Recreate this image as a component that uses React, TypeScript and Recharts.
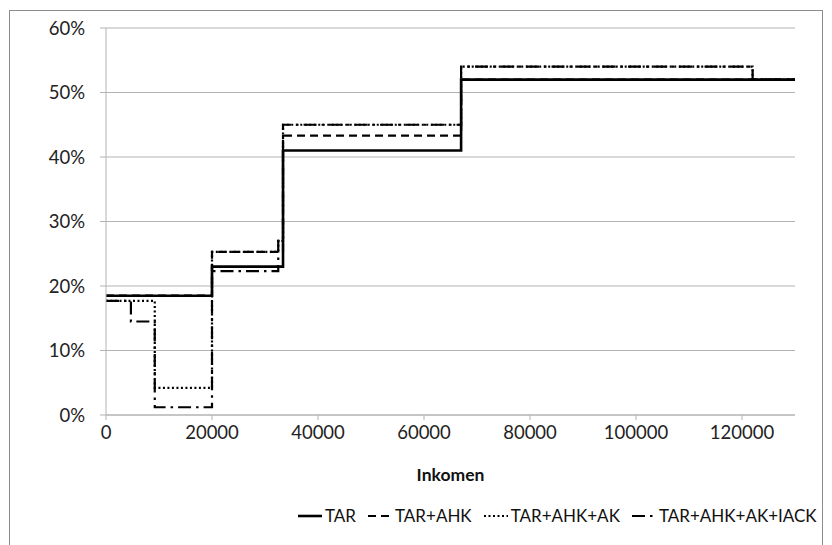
import { LineChart, Line, XAxis, YAxis, CartesianGrid } from 'recharts'

// step breakpoints (income) and marginal rates (%)
const xTicks = [0, 20000, 40000, 60000, 80000, 100000, 120000]
const yTicks = [0, 10, 20, 30, 40, 50, 60]

const tarIncome = [0, 20000, 33400, 67000, 130000]
const tarRate = [18.5, 23, 41, 52, 52]

const ahkIncome = [0, 20000, 33400, 67000, 130000]
const ahkRate = [18.5, 25.3, 43.3, 52, 52]

const akIncome = [0, 9200, 20000, 32500, 33400, 67000, 122000, 130000]
const akRate = [17.7, 4.2, 25.3, 27, 45, 54, 52, 52]

const iackIncome = [0, 4700, 9200, 20000, 32500, 33400, 67000, 122000, 130000]
const iackRate = [17.7, 14.5, 1.2, 22.3, 27, 45, 54, 52, 52]

const toPoints = (xs, ys) => xs.map((x, i) => ({ x, y: ys[i] }))

const series = [
  { name: 'TAR', data: toPoints(tarIncome, tarRate), dash: undefined, width: 2.6 },
  { name: 'TAR+AHK', data: toPoints(ahkIncome, ahkRate), dash: '8 5', width: 2.2 },
  { name: 'TAR+AHK+AK', data: toPoints(akIncome, akRate), dash: '2 2.5', width: 2.2 },
  { name: 'TAR+AHK+AK+IACK', data: toPoints(iackIncome, iackRate), dash: '13 5 2.5 5', width: 2.2 }
]

const font = 'Lato, "Open Sans", sans-serif'
const gray = '#b3b3b3'

const LegendItem = ({ label, dash, width }) => (
  <div style={{ display: 'flex', alignItems: 'center', marginRight: 11 }}>
    <svg width={26} height={10}>
      <line x1={1} y1={5} x2={25} y2={5} stroke="#000" strokeWidth={width} strokeDasharray={dash} />
    </svg>
    <span style={{ marginLeft: 2 }}>{label}</span>
  </div>
)

export default function App() {
  return (
    <div style={{ position: 'absolute', left: 0, top: 0, width: 832, height: 545, background: '#fff', fontFamily: font }}>
      <div style={{ position: 'absolute', left: 9, top: 10, width: 812, height: 540, border: '1px solid #8c8c8c' }} />
      <div style={{ position: 'absolute', left: 0, top: 0 }}>
        <LineChart width={832} height={545} margin={{ top: 28, right: 37, bottom: 60, left: 46 }}>
          <CartesianGrid vertical={false} stroke={gray} strokeWidth={1.2} />
          <XAxis
            type="number"
            dataKey="x"
            domain={[0, 130000]}
            ticks={xTicks}
            allowDuplicatedCategory={false}
            stroke={gray}
            tickSize={5}
            tickMargin={6}
            height={70}
            tick={{ fill: '#222', fontSize: 18.5, fontFamily: font }}
            label={{ value: 'Inkomen', position: 'insideBottom', offset: 4, fill: '#111', fontSize: 17.5, fontWeight: 700, fontFamily: font }}
          />
          <YAxis
            type="number"
            domain={[0, 60]}
            ticks={yTicks}
            width={60}
            stroke={gray}
            tickSize={6}
            tickMargin={15}
            tickFormatter={(v) => `${v}%`}
            tick={{ fill: '#222', fontSize: 18.5, fontFamily: font }}
          />
          {series.map((s) => (
            <Line
              key={s.name}
              data={s.data}
              dataKey="y"
              name={s.name}
              type="stepAfter"
              stroke="#000"
              strokeWidth={s.width}
              strokeDasharray={s.dash}
              dot={false}
              activeDot={false}
              isAnimationActive={false}
            />
          ))}
        </LineChart>
      </div>
      <div style={{ position: 'absolute', left: 297, top: 505, display: 'flex', fontSize: 17, color: '#111', whiteSpace: 'nowrap' }}>
        {series.map((s) => (
          <LegendItem key={s.name} label={s.name} dash={s.dash} width={s.width} />
        ))}
      </div>
    </div>
  )
}
